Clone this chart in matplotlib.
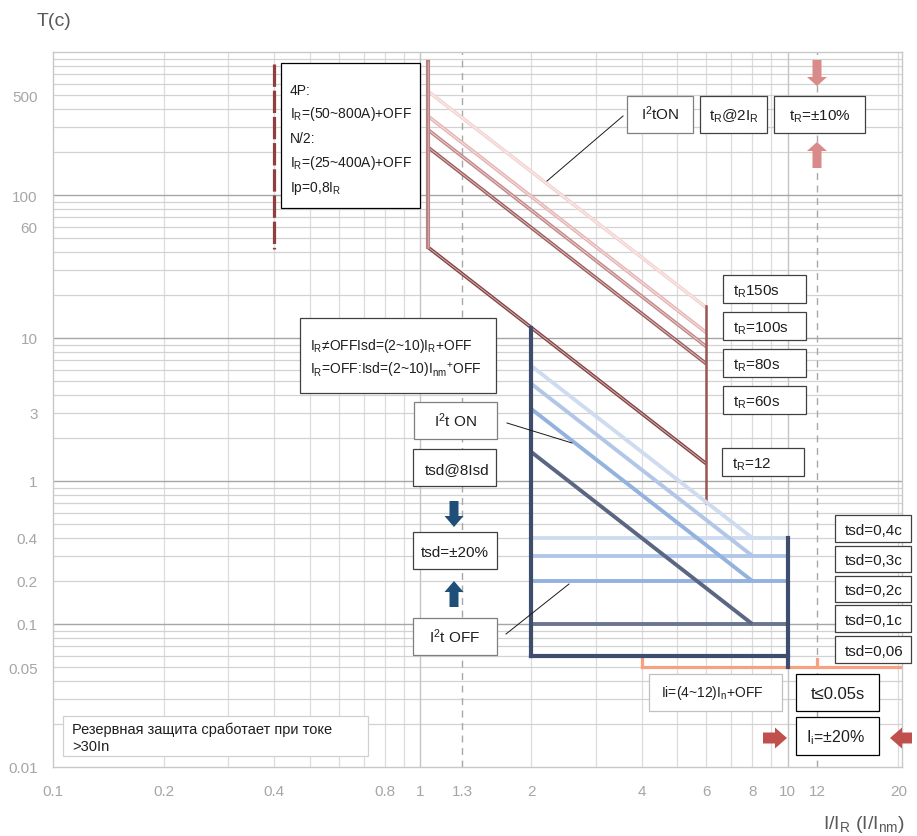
import matplotlib
matplotlib.use('Agg')
import matplotlib.pyplot as plt
import matplotlib.transforms as mtransforms
import matplotlib.colors as mcolors
from matplotlib.patches import Rectangle, Polygon
from matplotlib.lines import Line2D
import numpy as np

plt.rcParams['font.family'] = ['Liberation Sans', 'DejaVu Sans']
plt.rcParams['mathtext.fontset'] = 'custom'
plt.rcParams['mathtext.rm'] = 'Liberation Sans'
plt.rcParams['mathtext.it'] = 'Liberation Sans:italic'
plt.rcParams['mathtext.bf'] = 'Liberation Sans:bold'

# ---------------- data ----------------
x_ticks = [0.1, 0.2, 0.4, 0.8, 1, 1.3, 2, 4, 6, 8, 10, 12, 20]
x_tick_labels = ['0.1', '0.2', '0.4', '0.8', '1', '1.3', '2', '4', '6', '8', '10', '12', '20']
y_ticks = [0.01, 0.05, 0.1, 0.2, 0.4, 1, 3, 10, 60, 100, 500]
y_tick_labels = ['0.01', '0.05', '0.1', '0.2', '0.4', '1', '3', '10', '60', '100', '500']
x_lim = [0.1, 20.45]
y_lim = [0.01, 1000]

# long-time protection (I/IR, t)
lt_I = [1.05, 6.0]
lt_t_start = [530, 355, 285, 215, 43]
lt_t_end = [16.3, 10.9, 8.7, 6.6, 1.32]
lt_colors = ['#f3d2d2', '#e5b3b3', '#c38585', '#9e5c5c', '#864242']
lt_vert_I = 1.05
lt_vert_t = [850, 43]
lt_end_vert_I = 6.0
lt_end_vert_t = [16.7, 0.70]
lp_I = 0.4
lp_t = [820, 42]

# short-time protection
sd_I_start = 2.0
sd_I_knee = 8.0
sd_I_end = 10.0
sd_t_start = [6.4, 4.8, 3.2, 1.6]
sd_levels = [0.4, 0.3, 0.2, 0.1]
sd_colors = ['#cfdcf0', '#b2c7e8', '#94b2de', '#5b6782']
sd_h_colors = ['#cfdcf0', '#b2c7e8', '#94b2de', '#6a7590']
sd_min = 0.06
sd_top = 11.8
sd_floor = 0.05

# instantaneous protection
ii_I = [4.0, 20.45]
ii_t = 0.05
ii_tick_I = [4.0, 12.0]
ii_tick_t = [0.05, 0.057]

ref_dashed_I = [1.3, 12]

# ---------------- figure ----------------
W, H = 917, 837
fig = plt.figure(figsize=(W / 100, H / 100), dpi=100)
ax = fig.add_axes([53 / W, 1 - 768 / H, (902 - 53) / W, (768 - 53) / H])
px = mtransforms.Affine2D().scale(1 / W, -1 / H).translate(0, 1) + fig.transFigure

ax.set_xscale('log')
ax.set_yscale('log')
ax.set_xlim(*x_lim)
ax.set_ylim(*y_lim)

# grid lines
vgrid_minor = [m * 10.0 ** k for k in (-1, 0) for m in range(2, 10)] + [20]
vgrid_major = [1, 10]
for v in vgrid_minor:
    ax.axvline(v, color='#dcdcdc', lw=0.9, zorder=0.5)
for v in vgrid_major:
    ax.axvline(v, color='#c4c4c4', lw=1.0, zorder=0.6)
hgrid_minor = [m * 10.0 ** k for k in range(-2, 3) for m in range(2, 10)]
hgrid_major = [0.1, 1, 10, 100]
for h in hgrid_minor:
    ax.axhline(h, color='#d2d2d2', lw=0.9, zorder=0.5)
for h in hgrid_major:
    ax.axhline(h, color='#a6a6a6', lw=1.0, zorder=0.6)
for v in ref_dashed_I:
    ax.axvline(v, color='#a8a8a8', lw=1.0, dashes=(5, 4), zorder=0.7)

for s in ax.spines.values():
    s.set_color('#c8c8c8')
    s.set_linewidth(1.0)

ax.xaxis.set_minor_locator(matplotlib.ticker.NullLocator())
ax.yaxis.set_minor_locator(matplotlib.ticker.NullLocator())
ax.set_xticks(x_ticks)
ax.set_xticklabels(x_tick_labels)
ax.set_yticks(y_ticks)
ax.set_yticklabels(y_tick_labels)
ax.tick_params(axis='both', length=0, labelsize=11, labelcolor='#a6a6a6')
ax.tick_params(axis='x', pad=12)
ax.tick_params(axis='y', pad=11)


def lighten(c, f):
    r, g, b = mcolors.to_rgb(c)
    return (r + (1 - r) * f, g + (1 - g) * f, b + (1 - b) * f)


# long-time curves (double-line look)
for t0, t1, c in zip(lt_t_start, lt_t_end, lt_colors):
    ax.plot(lt_I, [t0, t1], color=c, lw=2.6, solid_capstyle='butt', zorder=3)
    ax.plot(lt_I, [t0, t1], color=lighten(c, 0.6), lw=0.7, zorder=3.1)
ax.plot([lt_vert_I, lt_vert_I], lt_vert_t, color='#b88282', lw=3.0, zorder=3.2)
ax.plot([lt_vert_I, lt_vert_I], lt_vert_t, color='#cfa3a3', lw=0.8, zorder=3.25)
ax.plot([lt_end_vert_I, lt_end_vert_I], lt_end_vert_t, color='#9a5656', lw=1.8, zorder=3.2)
ax.plot([lp_I, lp_I], lp_t, color='#8f3f3f', lw=2.3, dashes=(7, 1.2), zorder=3.2)

# short-time curves
for t0, lev, c, hc in zip(sd_t_start, sd_levels, sd_colors, sd_h_colors):
    ax.plot([sd_I_start, sd_I_knee], [t0, lev], color=c, lw=2.8, solid_capstyle='butt', zorder=3.5)
    ax.plot([sd_I_start, sd_I_end], [lev, lev], color=hc, lw=2.8, solid_capstyle='butt', zorder=3.4)
ax.plot([sd_I_start, sd_I_end], [sd_min, sd_min], color='#3e4d6e', lw=3.0, zorder=3.6)
ax.plot([sd_I_start, sd_I_start], [sd_top, sd_min], color='#3e4d6e', lw=3.0, zorder=3.6)
ax.plot([sd_I_end, sd_I_end], [sd_levels[0], sd_floor], color='#3e4d6e', lw=3.0, zorder=3.6)

# instantaneous
ax.plot(ii_I, [ii_t, ii_t], color='#f5a182', lw=2.3, zorder=3.3)
for xi in ii_tick_I:
    ax.plot([xi, xi], ii_tick_t, color='#f5a182', lw=2.3, zorder=3.3)

# ---------------- annotations ----------------
TXT = '#1e1e1e'


def box(x0, y0, x1, y1, ec='#404040', lw=0.9):
    fig.add_artist(Rectangle((x0, y0), x1 - x0, y1 - y0, transform=px, facecolor='white',
                             edgecolor=ec, lw=lw, zorder=5))


def txt(x, y, s, size=11, ha='center', color=TXT):
    base = y + 0.358 * size * 100 / 72
    fig.text(x, base, s, transform=px, ha=ha, va='baseline', fontsize=size, color=color, zorder=6)


def arrow(x0, y0, x1, y1, sw, hw, hl, color):
    d = np.array([x1 - x0, y1 - y0], float)
    L = np.hypot(*d)
    u = d / L
    n = np.array([-u[1], u[0]])
    p0 = np.array([x0, y0], float)
    b = p0 + u * (L - hl)
    pts = [p0 + n * sw, b + n * sw, b + n * hw, p0 + u * L, b - n * hw, b - n * sw, p0 - n * sw]
    fig.add_artist(Polygon(pts, closed=True, transform=px, facecolor=color, edgecolor='none', zorder=5))


def leader(x0, y0, x1, y1):
    fig.add_artist(Line2D([x0, x1], [y0, y1], transform=px, color='#1a1a1a', lw=0.7, zorder=5))


box(281, 64, 420, 209, ec='#000000')
fig.text(290, 95, '4P:', transform=px, fontsize=10, color=TXT, va='baseline', zorder=6)
fig.text(290, 118, r'$\mathregular{I_R}$=(50~800A)+OFF', transform=px, fontsize=10, color=TXT, va='baseline', zorder=6)
fig.text(290, 143, 'N/2:', transform=px, fontsize=10, color=TXT, va='baseline', zorder=6)
fig.text(290, 167, r'$\mathregular{I_R}$=(25~400A)+OFF', transform=px, fontsize=10, color=TXT, va='baseline', zorder=6)
fig.text(290, 192, r'Ip=0,8$\mathregular{I_R}$', transform=px, fontsize=10, color=TXT, va='baseline', zorder=6)

box(627, 97, 693, 134, ec='#7f7f7f')
txt(660, 115, r'$\mathregular{I^2}$tON')
box(700, 97, 767, 134)
txt(733.5, 115, r'$\mathregular{t_R}$@2$\mathregular{I_R}$')
box(774, 97, 865, 134)
txt(819.5, 115, r'$\mathregular{t_R}$=±10%')
leader(623, 117, 547, 182)
arrow(817, 61, 817, 87, 4.5, 10, 9, '#d98b8b')
arrow(817, 169, 817, 143, 4.5, 10, 9, '#d98b8b')

tr_labels = [r'$\mathregular{t_R}$150s', r'$\mathregular{t_R}$=100s', r'$\mathregular{t_R}$=80s',
             r'$\mathregular{t_R}$=60s', r'$\mathregular{t_R}$=12']
tr_boxes = [(723, 276, 806, 304), (723, 313, 806, 341), (723, 350, 806, 378),
            (723, 387, 806, 415), (722, 449, 804, 477)]
for lab, (x0, y0, x1, y1) in zip(tr_labels, tr_boxes):
    box(x0, y0, x1, y1)
    txt(x0 + 10, (y0 + y1) / 2, lab, ha='left')

box(300, 319, 496, 394)
txt(310, 345, r'$\mathregular{I_R}$≠OFFIsd=(2~10)$\mathregular{I_R}$+OFF', size=10, ha='left')
txt(310, 370, r'$\mathregular{I_R}$=OFF:Isd=(2~10)$\mathregular{I_{nm}}^{+}$OFF', size=10, ha='left')

box(414, 403, 497, 440, ec='#7f7f7f')
txt(455.5, 421.5, r'$\mathregular{I^2}$t ON')
leader(507, 424, 572, 444)
box(413, 450, 496, 487)
txt(457, 468.5, 'tsd@8Isd')
arrow(454, 502, 454, 528, 4.5, 9.5, 11, '#1f4e79')
box(413, 533, 497, 570)
txt(455, 551.5, 'tsd=±20%')
arrow(454, 608, 454, 582, 4.5, 9.5, 11, '#1f4e79')
box(413, 619, 497, 656, ec='#7f7f7f')
txt(455, 637.5, r'$\mathregular{I^2}$t OFF')
leader(506, 635, 569, 585)

tsd_labels = ['tsd=0,4c', 'tsd=0,3c', 'tsd=0,2c', 'tsd=0,1c', 'tsd=0,06']
tsd_boxes = [(835, 516, 911, 543), (835, 547, 911, 573), (835, 577, 911, 603),
             (835, 606, 911, 633), (835, 637, 911, 664)]
for lab, (x0, y0, x1, y1) in zip(tsd_labels, tsd_boxes):
    box(x0, y0, x1, y1)
    txt(x0 + 10, (y0 + y1) / 2, lab, ha='left')

box(649, 675, 782, 712, ec='#c0c0c0')
txt(712, 692, r'Ii=(4~12)$\mathregular{I_n}$+OFF', size=10)
box(796, 675, 879, 712, ec='#000000')
txt(837.5, 693.5, 't≤0.05s', size=12)
box(796, 718, 879, 756, ec='#000000')
txt(836, 737, r'$\mathregular{I_i}$=±20%', size=11.5)
arrow(763, 739, 787, 739, 5.5, 10.5, 12, '#c0504d')
arrow(912, 739, 890, 739, 5.5, 10.5, 12, '#c0504d')

box(63, 717, 368, 757, ec='#d0d0d0')
txt(72, 729, 'Резервная защита сработает при токе', size=10.5, ha='left')
txt(72, 746, '>30In', size=10.5, ha='left')

fig.text(37, 22, 'T(c)', transform=px, fontsize=14, color='#595959', ha='left', va='center')
fig.text(905, 825, r'I/$\mathregular{I_R}$ (I/$\mathregular{I_{nm}}$)', transform=px, fontsize=14,
         color='#595959', ha='right', va='center')

fig.savefig('out.png', dpi=100)
